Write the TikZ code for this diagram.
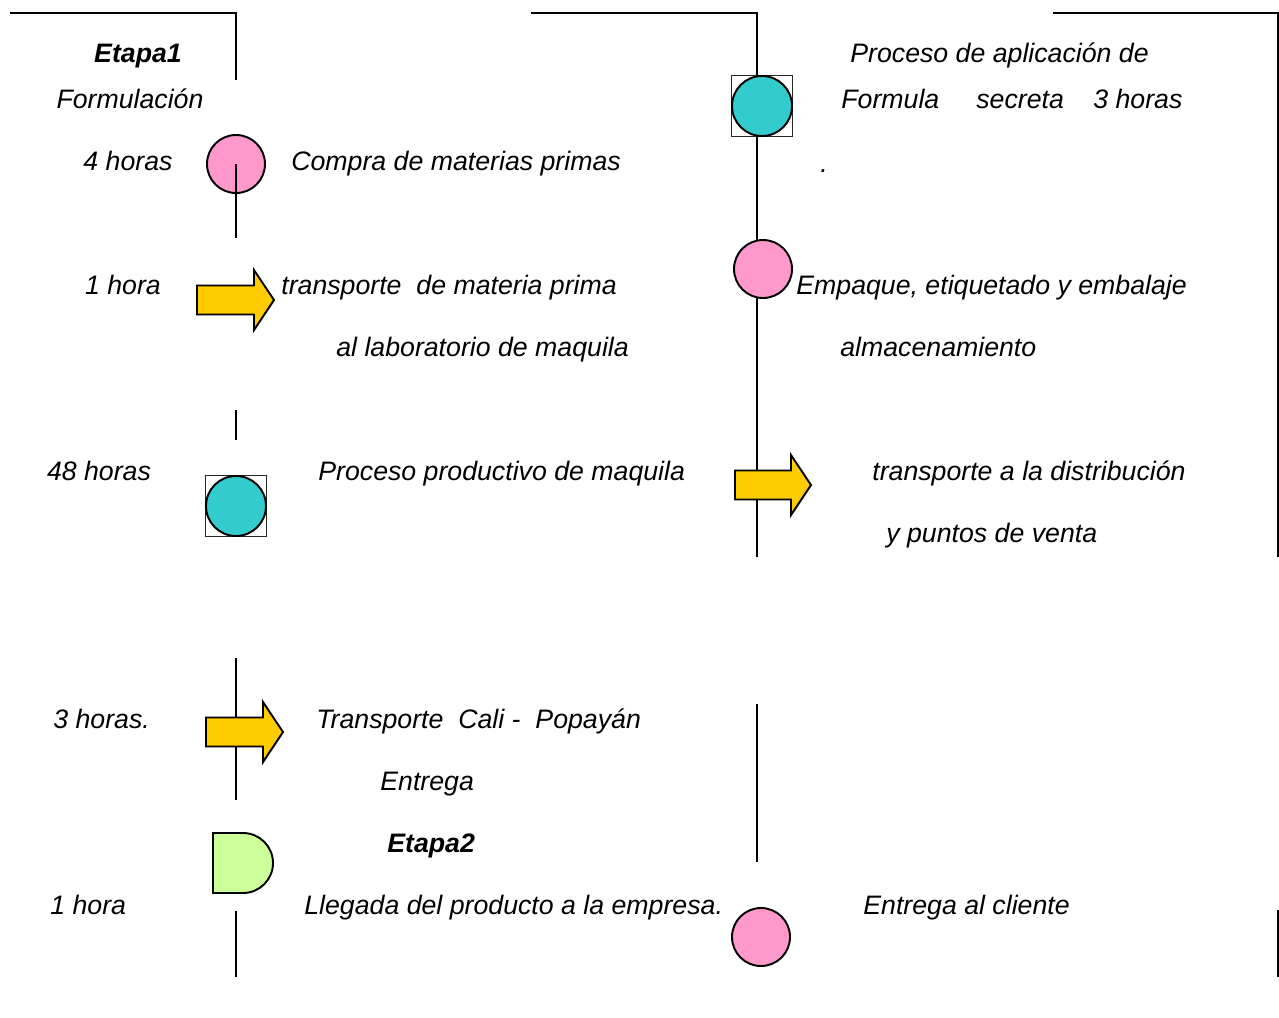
\documentclass[tikz,border=0pt]{standalone}
\usepackage{fontspec}
\setmainfont{Liberation Sans}
\begin{document}
\begin{tikzpicture}[x=0.02cm,y=-0.02cm,
  rule/.style={line width=1.1pt,black},
  shp/.style={draw=black,line width=1.1pt},
  pinkop/.style={shp,fill=opcolpink,circle,minimum size=58*0.02cm,inner sep=0pt},
  tealop/.style={shp,fill=opcolteal,circle,minimum size=60*0.02cm,inner sep=0pt},
  boxop/.style={draw=black!85,line width=1.1pt,fill=white,minimum size=61*0.02cm,inner sep=0pt},
  lbl/.style={anchor=base west,inner sep=0pt,font=\fontsize{15.2}{18}\selectfont\itshape},
  blbl/.style={lbl,font=\fontsize{15.2}{18}\selectfont\bfseries\itshape},
  clbl/.style={lbl,anchor=base}]
\definecolor{opcolpink}{HTML}{FF99CC}
\definecolor{opcolteal}{HTML}{33CCCC}
\definecolor{opcolyellow}{HTML}{FFCC00}
\definecolor{opcolgreen}{HTML}{CCFF99}
\useasboundingbox (0,0) rectangle (1279,1018);

% block arrow: tail x, tip x, centre y
\newcommand{\blockarrow}[4]{%
  \path[shp,fill=opcolyellow,line join=miter] (#1,#3-14.5) -- (#2-20,#3-14.5) -- (#2-20,#3-30)
     -- (#2,#3) -- (#2-20,#3+30) -- (#2-20,#3+14.5) -- (#1,#3+14.5) -- cycle;
  \coordinate (#4) at ({(#1+#2)/2},#3);}

% frame lines
\draw[rule] (10,13) -- (236,13) -- (236,80);
\draw[rule] (531,13) -- (757,13) -- (757,557);
\draw[rule] (1053,13) -- (1278,13) -- (1278,557);
\draw[rule] (236,410) -- (236,440);
\draw[rule] (236,658) -- (236,800);
\draw[rule] (236,911) -- (236,977);
\draw[rule] (757,704) -- (757,862);
\draw[rule] (1278,910) -- (1278,977);

% Etapa 1 symbols
\node[pinkop] (compra) at (236,164) {};
\draw[rule] (compra.center) -- (236,238);
\blockarrow{197}{274}{300}{tr1}
\node[boxop] (maqbox) at (236,506) {};
\node[tealop] (maquila) at (236,506) {};
\blockarrow{206}{283}{732}{tr2}
\path[shp,fill=opcolgreen] (213,833) -- (243,833) arc[start angle=-90,end angle=90,radius=30] -- (213,893) -- cycle;
\coordinate (llegada) at (243,863);

% right column symbols
\node[boxop] (formbox) at (762,106) {};
\node[tealop] (formula) at (762,106) {};
\node[pinkop] (empaque) at (763,269) {};
\blockarrow{735}{811}{485}{tr3}
\node[pinkop] (entrega) at (761,937) {};

% texts, left part
\node[clbl,font=\fontsize{15.2}{18}\selectfont\bfseries\itshape] (t1) at (138,62) {Etapa1};
\node[clbl] (t2) at (130,108) {Formulación};
\node[clbl] (t3) at (128,170) {4 horas};
\node[lbl] (t4) at (291,170) {Compra de materias primas};
\node[clbl] (t5) at (123,294) {1 hora};
\node[lbl] (t6) at (281,294) {transporte\ \ de materia prima};
\node[lbl] (t7) at (336,356) {al laboratorio de maquila};
\node[clbl] (t8) at (99,480) {48 horas};
\node[lbl] (t9) at (318,480) {Proceso productivo de maquila};
\node[lbl] (t10) at (53,728) {3 horas.};
\node[lbl] (t11) at (316,728) {Transporte\ \ Cali -\ \ Popayán};
\node[lbl] (t12) at (380,790) {Entrega};
\node[blbl] (t13) at (387,852) {Etapa2};
\node[lbl] (t14) at (50,914) {1 hora};
\node[lbl] (t15) at (304,914) {Llegada del producto a la empresa.};

% texts, right part
\node[lbl] (r1) at (850,62) {Proceso de aplicación de};
\node[lbl] (r2a) at (841,108) {Formula};
\node[lbl] (r2b) at (976,108) {secreta};
\node[lbl] (r2c) at (1093,108) {3 horas};
\node[lbl] (r3) at (820,172) {.};
\node[lbl] (r4) at (796,294) {Empaque, etiquetado y embalaje};
\node[lbl] (r5) at (840,356) {almacenamiento};
\node[lbl] (r6) at (872,480) {transporte a la distribución};
\node[lbl] (r7) at (886,542) {y puntos de venta};
\node[lbl] (r8) at (863,914) {Entrega al cliente};
\end{tikzpicture}
\end{document}
